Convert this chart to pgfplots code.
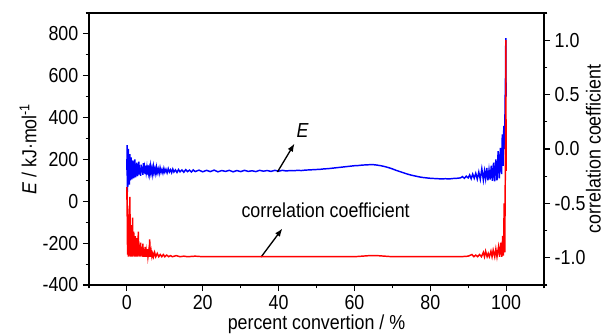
\documentclass[border=0pt]{standalone}
\usepackage{pgfplots}
\pgfplotsset{compat=1.18}
\usepackage{fontspec}
\setmainfont{Liberation Sans}[FakeStretch=0.88]
\usetikzlibrary{arrows.meta}

\newcommand{\chartfont}{\fontsize{15.2}{18}\selectfont}

\begin{document}
\begin{tikzpicture}[font=\chartfont]
\pgfplotsset{
  every axis/.append style={
    scale only axis, width=341.25pt, height=204pt,
    xmin=-10, xmax=110,
    tick align=outside,
    major tick length=4.5pt, minor tick length=2.5pt,
    tick style={black, line width=0.8pt},
    axis line style={black, line width=0.9pt},
    tick label style={font=\chartfont},
    label style={font=\chartfont},
    /pgf/number format/assume math mode=true,
  },
}
% left axis: activation energy E
\begin{axis}[
  name=ax,
  ymin=-400, ymax=900,
  xtick={0,20,...,100},
  minor xtick={-10,10,...,110},
  ytick={-400,-200,...,800},
  minor ytick={-300,-100,...,900},
  xtick pos=bottom, ytick pos=left,
  xlabel={percent convertion / \%},
  ylabel={\textit{E} / kJ·mol\textsuperscript{-1}},
  every axis x label/.style={at={(rel axis cs:0.5,0)}, yshift=-29.5pt, anchor=center},
  every axis y label/.style={at={(rel axis cs:0,0.5)}, xshift=-45.75pt, rotate=90, anchor=center},
  clip=false,
]
\addplot[blue, line width=1.1pt] table {
x y
0.00 150
0.04 268
0.08 130
0.12 45
0.16 235
0.20 110
0.24 70
0.28 215
0.32 160
0.36 85
0.40 250
0.45 120
0.50 95
0.55 200
0.60 140
0.65 80
0.70 185
0.75 110
0.80 225
0.85 130
0.90 100
0.95 175
1.00 120
1.10 210
1.20 135
1.30 105
1.40 180
1.50 125
1.60 195
1.70 140
1.80 110
1.90 170
2.00 130
2.10 200
2.20 145
2.30 115
2.40 165
2.50 125
2.60 185
2.70 140
2.80 120
2.90 172
3.00 135
3.15 190
3.30 128
3.45 160
3.60 122
3.75 175
3.90 138
4.05 165
4.20 126
4.35 182
4.50 135
4.65 158
4.80 130
4.95 170
5.10 140
5.25 160
5.40 128
5.55 172
5.70 138
5.85 155
6.00 132
6.20 168
6.40 136
6.60 158
6.80 130
7.00 165
7.20 138
7.40 156
7.60 134
7.80 162
8.00 137
8.25 155
8.50 133
8.75 160
9.00 138
9.25 152
9.50 135
9.75 157
10.0 139
10.3 153
10.6 136
10.9 156
11.2 140
11.5 151
11.8 137
12.1 154
12.4 140
12.8 150
13.2 138
13.6 152
14.0 141
14.5 150
15.0 139
15.5 151
16.0 142
16.5 149
17.0 140
17.5 150
18.0 142
19 149
20 141
21 148
22 142
23 149
24 141
25 147
26 143
27 148
28 141
29 147
30 142
31 148
32 143
33 146
34 142
35 148
36 144
37 147
38 143
39 148
40 144
41 148
42 145
43 147
44 146
45 148
46 147
47 149
48 150
49 151
50 152
51 153
52 155
53 156
54 158
55 160
56 162
57 164
58 166
59 168
60 170
61 171
62 173
63 174
64 175
65 175
66 173
67 170
68 166
69 161
70 155
71 148
72 142
73 136
74 130
75 125
76 121
77 117
78 114
79 112
80 110
81 109
82 108
83 107
84 108
85 107
86 109
87 110
88 112
88.5 118
89 110
89.5 120
90 112
90.4 126
90.8 108
91.2 130
91.6 110
92 134
92.4 106
92.8 140
93.2 105
93.6 155
94 102
94.3 145
94.6 108
94.9 160
95.2 100
95.5 150
95.8 104
96.1 170
96.4 98
96.7 185
97 95
97.3 200
97.6 100
97.9 240
98.2 110
98.5 255
98.8 130
99.0 320
99.2 170
99.4 360
99.6 250
99.75 480
99.85 600
99.92 780
100.0 500
};
% annotations
\node[anchor=center, font=\chartfont\itshape] at (axis cs:46.3,339) {E};
\draw[-{Latex[length=6pt,width=4.5pt]}, line width=1pt] (axis cs:39.7,140) -- (axis cs:44.2,276);
\node[anchor=center] at (axis cs:52.4,-43) {correlation coefficient};
\draw[-{Latex[length=6pt,width=4.5pt]}, line width=1pt] (axis cs:35.4,-266) -- (axis cs:41,-130);
\end{axis}

% right axis: correlation coefficient
\begin{axis}[
  ymin=-1.25, ymax=1.25,
  axis x line=none,
  axis y line*=right,
  ytick={-1,-0.5,...,1},
  minor ytick={-1.25,-0.75,...,1.25},
  ytick pos=right,
  yticklabel style={/pgf/number format/.cd, fixed, fixed zerofill, precision=1},
  ylabel={correlation coefficient},
  every axis y label/.style={at={(rel axis cs:1,0.5)}, xshift=37pt, rotate=90, anchor=center},
]
\addplot[red, line width=1.1pt] table {
x y
0.00 -0.35
0.04 -0.62
0.08 -0.38
0.12 -0.88
0.16 -0.52
0.20 -0.97
0.24 -0.70
0.28 -0.55
0.32 -0.96
0.36 -0.66
0.40 -0.99
0.45 -0.78
0.50 -0.60
0.55 -0.97
0.60 -0.82
0.65 -0.98
0.70 -0.72
0.75 -0.95
0.80 -0.44
0.85 -0.90
0.90 -0.99
0.95 -0.77
1.00 -0.96
1.10 -0.70
1.20 -0.99
1.30 -0.84
1.40 -0.97
1.50 -0.63
1.60 -0.99
1.70 -0.86
1.80 -0.76
1.90 -0.98
2.00 -0.85
2.10 -0.99
2.20 -0.80
2.30 -0.97
2.40 -0.89
2.50 -0.99
2.60 -0.82
2.70 -0.98
2.80 -0.90
2.90 -0.99
3.00 -0.76
3.15 -0.98
3.30 -0.88
3.45 -0.99
3.60 -0.86
3.75 -0.98
3.90 -0.92
4.05 -0.99
4.20 -0.87
4.35 -0.99
4.50 -0.93
4.65 -0.99
4.80 -0.90
4.95 -0.99
5.10 -0.94
5.25 -0.99
5.40 -0.92
5.55 -0.99
5.70 -0.95
5.85 -0.99
6.00 -0.83
6.20 -0.99
6.40 -0.94
6.60 -0.99
6.80 -0.96
7.00 -0.99
7.30 -0.95
7.60 -0.99
8.00 -0.96
8.40 -0.99
8.80 -0.97
9.20 -0.99
9.60 -0.97
10 -0.99
10.5 -0.975
11 -0.99
11.5 -0.98
12 -0.99
13 -0.98
14 -0.99
15 -0.985
16 -0.99
18 -0.985
20 -0.99
25 -0.99
30 -0.99
35 -0.99
40 -0.99
45 -0.99
50 -0.99
55 -0.99
60 -0.99
62 -0.985
64 -0.98
66 -0.98
68 -0.985
70 -0.99
75 -0.99
80 -0.99
85 -0.99
88 -0.99
90 -0.985
91 -0.97
91.5 -0.99
92 -0.975
92.5 -0.99
93 -0.97
93.5 -0.99
94 -0.95
94.3 -0.99
94.6 -0.94
95 -0.99
95.3 -0.96
95.6 -0.99
96 -0.94
96.3 -0.99
96.6 -0.93
97 -0.99
97.3 -0.92
97.6 -0.99
98 -0.90
98.3 -0.99
98.6 -0.86
98.9 -0.99
99.1 -0.80
99.3 -0.98
99.5 -0.50
99.65 -0.95
99.8 -0.20
99.9 0.40
99.95 1.00
100.0 -0.20
};
\end{axis}

\pgfresetboundingbox
\path[use as bounding box] ([shift={(-66.75pt,-37.5pt)}]ax.south west) rectangle ([shift={(46.5pt,9.75pt)}]ax.north east);
\end{tikzpicture}
\end{document}
